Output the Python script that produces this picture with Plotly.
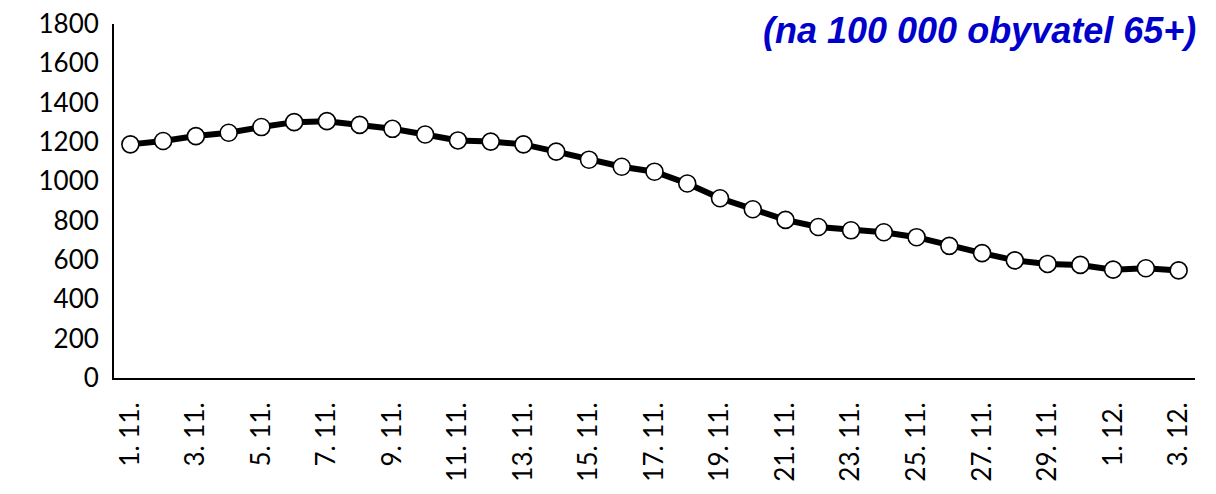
import plotly.graph_objects as go

dates = ["1. 11.", "2. 11.", "3. 11.", "4. 11.", "5. 11.", "6. 11.", "7. 11.", "8. 11.",
         "9. 11.", "10. 11.", "11. 11.", "12. 11.", "13. 11.", "14. 11.", "15. 11.",
         "16. 11.", "17. 11.", "18. 11.", "19. 11.", "20. 11.", "21. 11.", "22. 11.",
         "23. 11.", "24. 11.", "25. 11.", "26. 11.", "27. 11.", "28. 11.", "29. 11.",
         "30. 11.", "1. 12.", "2. 12.", "3. 12."]
values = [1188, 1205, 1230, 1247, 1276, 1301, 1306, 1287, 1267, 1238, 1208, 1202,
          1188, 1151, 1110, 1074, 1049, 989, 914, 858, 804, 768, 751, 741,
          716, 672, 635, 598, 580, 575, 551, 558, 547]
shown_ticks = dates[::2]
y_ticks = list(range(0, 1801, 200))
subtitle = "(na 100 000 obyvatel 65+)"

fig = go.Figure()
fig.add_trace(go.Scatter(
    x=dates, y=values, mode="lines+markers",
    line=dict(color="black", width=6),
    marker=dict(size=17, color="white", line=dict(color="black", width=1.6)),
    showlegend=False, cliponaxis=False,
))

fig.update_layout(
    width=1216, height=494,
    margin=dict(l=106, r=29, t=16, b=124, autoexpand=False),
    paper_bgcolor="white", plot_bgcolor="white",
    font=dict(family="Lato, Calibri, sans-serif", size=26, color="black"),
    xaxis=dict(
        type="category", range=[-0.5, len(dates) - 0.5],
        tickmode="array", tickvals=shown_ticks, ticktext=shown_ticks,
        tickangle=-90, showline=True, linecolor="black", linewidth=2,
        ticks="outside", ticklen=12, tickcolor="rgba(0,0,0,0)",
        showgrid=False, zeroline=False, automargin=False,
        ticklabeloverflow="allow",
    ),
    yaxis=dict(
        range=[0, 1800], tickvals=y_ticks, showline=True, linecolor="black",
        linewidth=2, showgrid=False, zeroline=False, ticks="outside",
        ticklen=8, tickcolor="rgba(0,0,0,0)", automargin=False,
        ticklabeloverflow="allow",
    ),
    annotations=[dict(
        text="<b><i>" + subtitle + "</i></b>", xref="paper", yref="paper",
        x=1.0, y=1.0, xanchor="right", yanchor="top", xshift=3, yshift=16,
        showarrow=False,
        font=dict(family="Liberation Sans, Arial, sans-serif", size=36, color="#0000CC"),
    )],
)

fig.write_html("out.html")
